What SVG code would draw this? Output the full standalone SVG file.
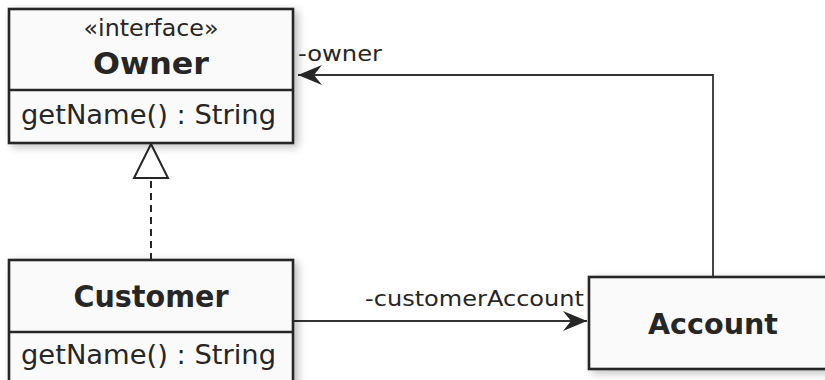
<svg xmlns="http://www.w3.org/2000/svg" width="825" height="380" viewBox="0 0 825 380">
<style>
.box{fill:#fafafa;stroke:#262626;stroke-width:2.6}
.div{stroke:#262626;stroke-width:2.6}
.t{font-family:"DejaVu Sans","Liberation Sans",sans-serif;fill:#262626}
.b{font-weight:bold}
.line{fill:none;stroke:#333;stroke-width:1.8}
</style>
<defs>
<filter id="sh" x="-10%" y="-10%" width="130%" height="130%">
<feGaussianBlur in="SourceAlpha" stdDeviation="4"/>
<feOffset dx="4" dy="3"/>
<feComponentTransfer><feFuncA type="linear" slope="0.25"/></feComponentTransfer>
<feMerge><feMergeNode/><feMergeNode in="SourceGraphic"/></feMerge>
</filter>
<marker id="arr" markerUnits="userSpaceOnUse" markerWidth="26" markerHeight="22" refX="25" refY="11" orient="auto">
<path d="M1,1 L25,11 L1,21 L9,11 Z" fill="#262626"/>
</marker>
</defs>
<rect width="825" height="380" fill="#fff"/>
<g id="connectors">
<path class="line" d="M713,277 V75 H298" marker-end="url(#arr)"/>
<path class="line" d="M293,321 H587" marker-end="url(#arr)"/>
<path d="M151,260 V178" fill="none" stroke="#262626" stroke-width="2" stroke-dasharray="7,5"/>
<path d="M151,144 L168,178 L134,178 Z" fill="#fff" stroke="#262626" stroke-width="2"/>
<text class="t" x="298" y="61" font-size="22" textLength="84" lengthAdjust="spacingAndGlyphs">-owner</text>
<text class="t" x="365" y="306" font-size="22" textLength="219" lengthAdjust="spacingAndGlyphs">-customerAccount</text>
</g>
<g id="owner">
<rect class="box" x="9" y="9" width="284" height="134" filter="url(#sh)"/>
<line class="div" x1="9" y1="90" x2="293" y2="90"/>
<text class="t" x="151" y="36" font-size="23" text-anchor="middle" textLength="135" lengthAdjust="spacingAndGlyphs">«interface»</text>
<text class="t b" x="151" y="74" font-size="30" text-anchor="middle" textLength="116" lengthAdjust="spacingAndGlyphs">Owner</text>
<text class="t" x="21" y="124" font-size="26" textLength="255" lengthAdjust="spacingAndGlyphs">getName() : String</text>
</g>
<g id="customer">
<rect class="box" x="9" y="260" width="284" height="130" filter="url(#sh)"/>
<line class="div" x1="9" y1="332" x2="293" y2="332"/>
<text class="t b" x="151" y="307" font-size="30" text-anchor="middle" textLength="155" lengthAdjust="spacingAndGlyphs">Customer</text>
<text class="t" x="21" y="364" font-size="26" textLength="255" lengthAdjust="spacingAndGlyphs">getName() : String</text>
</g>
<g id="account">
<rect class="box" x="589" y="277" width="250" height="92" filter="url(#sh)"/>
<text class="t b" x="713" y="334" font-size="28" text-anchor="middle" textLength="130" lengthAdjust="spacingAndGlyphs">Account</text>
</g>
</svg>
